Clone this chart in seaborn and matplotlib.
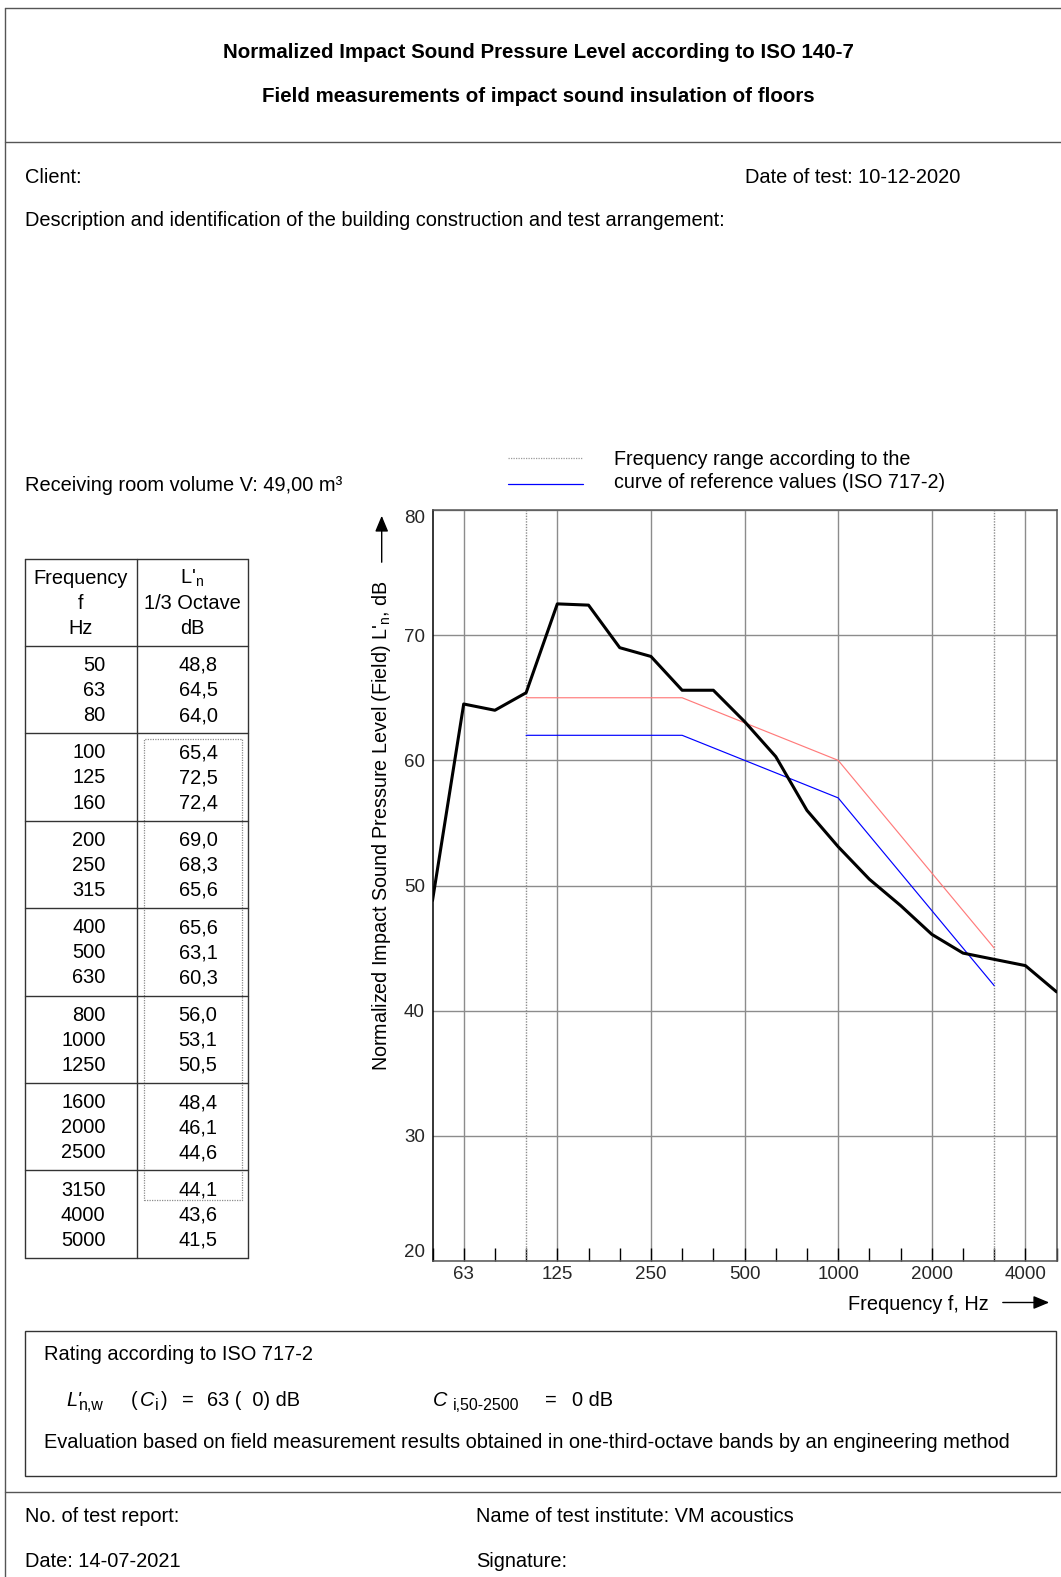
import numpy as np
import pandas as pd
import seaborn as sns
import matplotlib
matplotlib.use("Agg")
import matplotlib.pyplot as plt
from matplotlib.lines import Line2D
from matplotlib.patches import Rectangle, FancyArrowPatch

# ---------------- data ----------------
bands = ["50", "63", "80", "100", "125", "160", "200", "250", "315", "400",
         "500", "630", "800", "1000", "1250", "1600", "2000", "2500", "3150",
         "4000", "5000"]
Ln = [48.8, 64.5, 64.0, 65.4, 72.5, 72.4, 69.0, 68.3, 65.6, 65.6, 63.1, 60.3,
      56.0, 53.1, 50.5, 48.4, 46.1, 44.6, 44.1, 43.6, 41.5]
Ln_text = ["48,8", "64,5", "64,0", "65,4", "72,5", "72,4", "69,0", "68,3",
           "65,6", "65,6", "63,1", "60,3", "56,0", "53,1", "50,5", "48,4",
           "46,1", "44,6", "44,1", "43,6", "41,5"]
ref_bands = ["100", "125", "160", "200", "250", "315", "400", "500", "630",
             "800", "1000", "1250", "1600", "2000", "2500", "3150"]
ref_values = [62, 62, 62, 62, 62, 62, 61, 60, 59, 58, 57, 54, 51, 48, 45, 42]
ref_shifted = [65, 65, 65, 65, 65, 65, 64, 63, 62, 61, 60, 57, 54, 51, 48, 45]
x_tick_labels = ["63", "125", "250", "500", "1000", "2000", "4000"]
y_ticks = [20, 30, 40, 50, 60, 70, 80]

# ---------------- style ----------------
sns.set_theme(style="white")
plt.rcParams["font.family"] = ["Liberation Sans", "DejaVu Sans"]
plt.rcParams["mathtext.fontset"] = "custom"
plt.rcParams["mathtext.rm"] = "Liberation Sans"
plt.rcParams["mathtext.it"] = "Liberation Sans:italic"
plt.rcParams["mathtext.bf"] = "Liberation Sans:bold"

FS = 14.4        # body text
FS_TITLE = 14.8  # bold titles
FS_TICK = 13.5   # tick labels
FS_SUB = 11.5    # subscripts
YOFF = 2.5       # vertical correction for centred text

W, H = 1061, 1577
fig = plt.figure(figsize=(W / 100, H / 100), dpi=100)
fig.patch.set_facecolor("white")


def fx(x):
    return x / W


def fy(y):
    return 1 - y / H


def hline(x0, x1, y, **kw):
    fig.add_artist(Line2D([fx(x0), fx(x1)], [fy(y), fy(y)],
                          transform=fig.transFigure, **kw))


def vline(x, y0, y1, **kw):
    fig.add_artist(Line2D([fx(x), fx(x)], [fy(y0), fy(y1)],
                          transform=fig.transFigure, **kw))


def txt(x, y, s, **kw):
    kw.setdefault("fontsize", FS)
    kw.setdefault("va", "center")
    kw.setdefault("color", "black")
    if kw["va"] == "center":
        y = y + YOFF
    fig.text(fx(x), fy(y), s, **kw)


# ---------------- page frame ----------------
frame_kw = dict(color="#555555", lw=1.0)
vline(5, 8, 1577, **frame_kw)
hline(5, 1061, 8, **frame_kw)
hline(5, 1061, 142, **frame_kw)
hline(5, 1061, 1491.5, **frame_kw)

# ---------------- header texts ----------------
txt(538, 50.3, "Normalized Impact Sound Pressure Level according to ISO 140-7",
    ha="center", fontweight="bold", fontsize=FS_TITLE)
txt(538, 94.5, "Field measurements of impact sound insulation of floors",
    ha="center", fontweight="bold", fontsize=FS_TITLE)
txt(25, 175, "Client:", ha="left")
txt(745, 175, "Date of test: 10-12-2020", ha="left")
txt(25, 218, "Description and identification of the building construction and test arrangement:",
    ha="left")
txt(25, 483, "Receiving room volume V: 49,00 m³", ha="left")

# legend
hline(508, 583, 457.5, color="#9a9a9a", lw=0.9, ls=(0, (1, 1)))
hline(508, 583, 484, color="#0000ff", lw=0.9)
txt(614, 456.5, "Frequency range according to the", ha="left", fontsize=14.2)
txt(614, 479.5, "curve of reference values (ISO 717-2)", ha="left", fontsize=14.2)

# ---------------- chart ----------------
ax_l, ax_r, ax_t, ax_b = 432.5, 1056.6, 510, 1261
ax = fig.add_axes([fx(ax_l), fy(ax_b), fx(ax_r - ax_l), (ax_b - ax_t) / H])

df = pd.DataFrame({"idx": np.arange(len(bands)), "band": bands, "Ln": Ln})
ref_df = pd.DataFrame({"idx": [bands.index(b) for b in ref_bands],
                       "ref": ref_values, "shifted": ref_shifted})

sns.lineplot(data=ref_df, x="idx", y="shifted", color="#ff7b7b", lw=0.85,
             ax=ax, zorder=3)
sns.lineplot(data=ref_df, x="idx", y="ref", color="#0000ff", lw=0.85,
             ax=ax, zorder=3)
sns.lineplot(data=df, x="idx", y="Ln", color="black", lw=2.2, ax=ax, zorder=4)

ax.set_xlim(0, len(bands) - 1)
ax.set_ylim(y_ticks[0], y_ticks[-1])
major_idx = [bands.index(t) for t in x_tick_labels]
minor_idx = [i for i in range(len(bands)) if i not in major_idx]
ax.set_xticks(major_idx)
ax.set_xticklabels(x_tick_labels)
ax.set_xticks(minor_idx, minor=True)
ax.set_yticks(y_ticks)
ax.set_yticklabels([str(v) for v in y_ticks])
ax.set_xlabel("")
ax.set_ylabel("")

ax.grid(True, which="major", axis="both", color="#8c8c8c", lw=1.0)
ax.set_axisbelow(True)
for b in (ref_bands[0], ref_bands[-1]):
    ax.axvline(bands.index(b), color="#8c8c8c", lw=1.0, ls=(0, (1, 1)), zorder=1)

ax.tick_params(axis="x", which="both", direction="in", length=9.1, width=1.0,
               color="black", pad=3.5, labelsize=FS_TICK, bottom=True)
ax.tick_params(axis="y", length=0, pad=5.4, labelsize=FS_TICK)
for s in ax.spines.values():
    s.set_color("#555555")
    s.set_linewidth(1.1)
ax.spines["left"].set_color("black")

ylabs = ax.get_yticklabels()
ylabs[0].set_va("bottom")
ylabs[-1].set_va("top")

# y label with arrow
txt(381.7, 580, r"Normalized Impact Sound Pressure Level (Field) L'$_{\rm n}$, dB",
    ha="center", va="top", rotation=90, fontsize=14.2)
fig.add_artist(FancyArrowPatch(
    (fx(381.7), fy(565)), (fx(381.7), fy(513)), transform=fig.transFigure,
    arrowstyle="-|>,head_length=6,head_width=2.5", color="black", lw=1.0,
    mutation_scale=1.6))
# x label with arrow
txt(988.6, 1302, "Frequency f, Hz", ha="right")
fig.add_artist(FancyArrowPatch(
    (fx(1000), fy(1302.5)), (fx(1052), fy(1302.5)), transform=fig.transFigure,
    arrowstyle="-|>,head_length=6,head_width=2.5", color="black", lw=1.0,
    mutation_scale=1.6))

# ---------------- table ----------------
tl, tm, tr = 25, 136.8, 248.4
t_top, t_head = 559, 645.7
group_h = 87.45
n_groups = 7
t_bot = t_head + n_groups * group_h
tk = dict(color="#333333", lw=1.0)
hline(tl, tr, t_top, **tk)
hline(tl, tr, t_head, **tk)
for g in range(1, n_groups + 1):
    hline(tl, tr, t_head + g * group_h, **tk)
vline(tl, t_top, t_bot, **tk)
vline(tm, t_top, t_bot, **tk)
vline(tr, t_top, t_bot, **tk)

txt(80.5, 576, "Frequency", ha="center")
txt(80.5, 601, "f", ha="center")
txt(80.5, 625.5, "Hz", ha="center")
txt(192, 576, r"L'$_{\rm n}$", ha="center")
txt(192, 601, "1/3 Octave", ha="center")
txt(192, 625.5, "dB", ha="center")

row_offsets = [17.2, 42.3, 67.4]
for i, (b, v) in enumerate(zip(bands, Ln_text)):
    g, r = divmod(i, 3)
    y = t_head + g * group_h + row_offsets[r]
    txt(105.6, y, b, ha="right")
    txt(198, y, v, ha="center")

# dotted box around the rated range
i0 = bands.index(ref_bands[0])
i1 = bands.index(ref_bands[-1])
g0, r0 = divmod(i0, 3)
g1, r1 = divmod(i1, 3)
y0 = t_head + g0 * group_h + row_offsets[r0] - 11.5
y1 = t_head + g1 * group_h + row_offsets[r1] + 12.5
fig.add_artist(Rectangle((fx(143.8), fy(y1)), fx(242.4 - 143.8), (y1 - y0) / H,
                         transform=fig.transFigure, fill=False,
                         edgecolor="#8c8c8c", lw=0.9, ls=(0, (1, 1))))

# ---------------- rating box ----------------
fig.add_artist(Rectangle((fx(25), fy(1476)), fx(1056 - 25), (1476 - 1330.5) / H,
                         transform=fig.transFigure, fill=False,
                         edgecolor="#333333", lw=1.0))
txt(44, 1352.5, "Rating according to ISO 717-2", ha="left")

bl = 1405.5   # baseline of the formula row
sub = bl + 5  # baseline of subscripts
txt(66, bl, "L'", ha="left", va="baseline", style="italic")
txt(78.5, sub, "n,w", ha="left", va="baseline", fontsize=FS_SUB)
txt(131, bl, "(", ha="left", va="baseline")
txt(139.5, bl, "C", ha="left", va="baseline", style="italic")
txt(155, sub, "i", ha="left", va="baseline", fontsize=FS_SUB)
txt(161, bl, ")", ha="left", va="baseline")
txt(182, bl, "=", ha="left", va="baseline")
txt(206.7, bl, "63 (  0) dB", ha="left", va="baseline")

txt(433, bl, "C", ha="left", va="baseline", style="italic")
txt(453, sub, "i,50-2500", ha="left", va="baseline", fontsize=FS_SUB)
txt(545, bl, "=", ha="left", va="baseline")
txt(571.7, bl, "0 dB", ha="left", va="baseline")

txt(44, 1440, "Evaluation based on field measurement results obtained in one-third-octave bands by an engineering method",
    ha="left")

# ---------------- footer ----------------
txt(25, 1514.5, "No. of test report:", ha="left")
txt(475.7, 1514.5, "Name of test institute: VM acoustics", ha="left")
txt(25, 1559, "Date: 14-07-2021", ha="left")
txt(475.7, 1559, "Signature:", ha="left")

fig.savefig("out.png", dpi=100, facecolor="white")
